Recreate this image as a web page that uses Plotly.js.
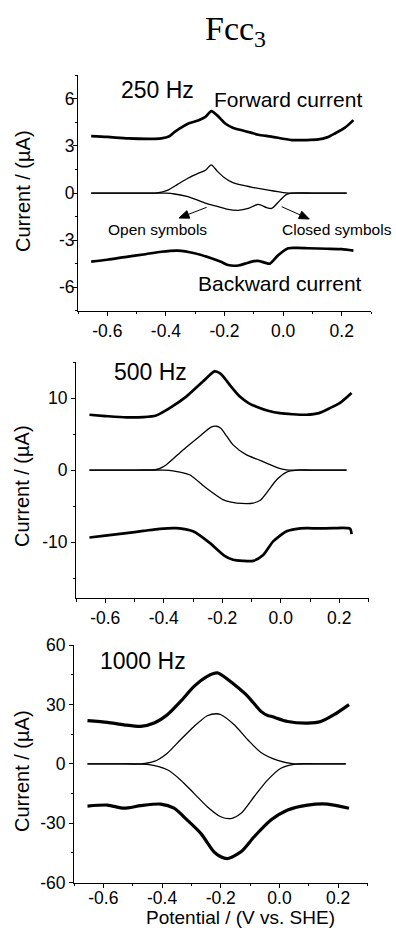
<!DOCTYPE html>
<html>
<head>
<meta charset="utf-8">
<script src="https://cdn.plot.ly/plotly-3.0.1.min.js"></script>
<style>html,body{margin:0;padding:0;background:#fff;}#chart{width:396px;height:930px;}</style>
</head>
<body>
<div id="chart"></div>
<script>
// ---------- 250 Hz ----------
const v250Fwd = [-0.655,-0.60,-0.529,-0.45,-0.416,-0.39,-0.37,-0.345,-0.325,-0.29,-0.265,-0.245,-0.225,-0.195,-0.17,-0.141,-0.11,-0.085,-0.04,0.029,0.08,0.12,0.15,0.177,0.21,0.24];
const i250Fwd = [3.63,3.58,3.48,3.45,3.48,3.6,3.9,4.2,4.42,4.62,4.85,5.22,4.95,4.4,4.15,4.0,3.85,3.72,3.6,3.38,3.38,3.42,3.55,3.8,4.15,4.65];
const v250FwdSim = [-0.655,-0.50,-0.438,-0.415,-0.393,-0.359,-0.325,-0.29,-0.265,-0.245,-0.225,-0.20,-0.175,-0.14,-0.10,-0.05,0.0,0.02,0.10,0.217];
const i250FwdSim = [0,0,0,0.06,0.19,0.57,0.94,1.25,1.45,1.8,1.4,0.98,0.7,0.5,0.35,0.18,0.03,0,0,0];
const v250BwdSim = [-0.655,-0.50,-0.40,-0.37,-0.325,-0.268,-0.225,-0.188,-0.153,-0.119,-0.085,-0.056,-0.039,-0.01,0.012,0.03,0.10,0.217];
const i250BwdSim = [0,0,-0.01,-0.06,-0.23,-0.62,-0.85,-1.04,-1.1,-0.98,-0.72,-0.93,-0.98,-0.45,-0.08,0,0,0];
const v250Bwd = [-0.655,-0.60,-0.529,-0.47,-0.416,-0.359,-0.302,-0.245,-0.21,-0.188,-0.153,-0.13,-0.107,-0.085,-0.06,-0.045,-0.016,0.018,0.05,0.086,0.15,0.20,0.24];
const i250Bwd = [-4.37,-4.25,-4.05,-3.9,-3.74,-3.67,-3.84,-4.16,-4.4,-4.59,-4.62,-4.5,-4.37,-4.32,-4.45,-4.5,-3.95,-3.52,-3.5,-3.52,-3.55,-3.58,-3.67];

// ---------- 500 Hz ----------
const v500Fwd = [-0.654,-0.60,-0.528,-0.47,-0.426,-0.38,-0.323,-0.266,-0.226,-0.21,-0.197,-0.17,-0.14,-0.11,-0.083,-0.04,-0.003,0.04,0.088,0.13,0.168,0.205,0.242];
const i500Fwd = [7.68,7.5,7.31,7.35,7.58,8.6,10.2,12.3,13.7,13.5,13.0,11.6,10.2,9.3,8.8,8.2,7.9,7.75,7.68,7.9,8.6,9.4,10.7];
const v500FwdSim = [-0.654,-0.50,-0.437,-0.415,-0.391,-0.334,-0.278,-0.238,-0.22,-0.205,-0.185,-0.163,-0.117,-0.08,-0.049,-0.01,0.02,0.10,0.225];
const i500FwdSim = [0,0,0,0.2,0.74,2.8,4.67,5.97,6.08,5.8,4.7,3.5,2.1,1.5,0.97,0.3,0.04,0,0];
const v500BwdSim = [-0.654,-0.50,-0.40,-0.369,-0.312,-0.255,-0.198,-0.17,-0.151,-0.094,-0.07,-0.049,-0.014,0.02,0.054,0.10,0.225];
const i500BwdSim = [0,0,0,-0.1,-0.65,-2.5,-4.1,-4.45,-4.58,-4.58,-4.2,-3.2,-1.35,-0.28,0,0,0];
const v500Bwd = [-0.654,-0.60,-0.528,-0.47,-0.414,-0.357,-0.30,-0.243,-0.192,-0.163,-0.13,-0.094,-0.06,-0.026,0.02,0.05,0.088,0.13,0.18,0.237,0.242];
const i500Bwd = [-9.36,-9.1,-8.75,-8.45,-8.15,-8.06,-8.5,-10.1,-11.9,-12.45,-12.6,-12.6,-11.8,-9.9,-8.5,-8.2,-8.06,-8.1,-8.06,-8.15,-8.9];

// ---------- 1000 Hz ----------
const v1000Fwd = [-0.654,-0.586,-0.53,-0.473,-0.427,-0.382,-0.337,-0.291,-0.246,-0.212,-0.199,-0.154,-0.108,-0.063,-0.04,-0.028,0.028,0.096,0.141,0.186,0.237];
const i1000Fwd = [21.8,20.9,19.7,18.9,20.6,24.8,31.5,39.1,44.2,45.9,45,40,34.1,26.5,24.4,24.0,21.4,20.6,21.4,24.8,29.9];
const v1000FwdSim = [-0.654,-0.55,-0.473,-0.427,-0.382,-0.337,-0.291,-0.246,-0.215,-0.199,-0.154,-0.108,-0.063,-0.006,0.05,0.12,0.226];
const i1000FwdSim = [0,0,0,1.2,5.4,12.2,18.9,24.3,25.3,24.8,19.7,12.2,5.7,1.7,0,0,0];
const v1000BwdSim = [-0.654,-0.55,-0.45,-0.382,-0.337,-0.291,-0.246,-0.20,-0.165,-0.131,-0.086,-0.04,0.005,0.062,0.12,0.226];
const i1000BwdSim = [0,0,-0.3,-3,-8.1,-14.9,-21.6,-26.7,-27.6,-25,-16.5,-8.1,-2.2,0,0,0];
const v1000Bwd = [-0.654,-0.586,-0.53,-0.473,-0.405,-0.359,-0.314,-0.268,-0.223,-0.20,-0.176,-0.131,-0.086,-0.029,0.028,0.096,0.164,0.237];
const i1000Bwd = [-21.3,-20.8,-22.4,-21.1,-20.3,-22.4,-28.4,-35.1,-44.4,-46.9,-47.8,-44.4,-36.8,-28.4,-23.3,-20.8,-20.3,-22.4];

// ---------- ticks ----------
const xTickVals = [-0.6,-0.4,-0.2,0.0,0.2];
const xTickText = ['-0.6','-0.4','-0.2','0.0','0.2'];
const y1TickVals = [-6,-3,0,3,6];
const y1TickText = ['-6','-3','0','3','6'];
const y2TickVals = [-10,0,10];
const y2TickText = ['-10','0','10'];
const y3TickVals = [-60,-30,0,30,60];
const y3TickText = ['-60','-30','0','30','60'];

const W = 396, H = 930;
const px = x => x / W;
const py = y => 1 - y / H;

function tr(x, y, ax, w) {
  return {x: x, y: y, xaxis: 'x' + ax, yaxis: 'y' + ax, type: 'scatter', mode: 'lines',
    line: {color: '#000', width: w, shape: 'spline', smoothing: 0.7}, hoverinfo: 'skip'};
}
const thick = 2.7, thin = 1.3;
const data = [
  tr(v250Fwd, i250Fwd, '', thick), tr(v250FwdSim, i250FwdSim, '', thin),
  tr(v250BwdSim, i250BwdSim, '', thin), tr(v250Bwd, i250Bwd, '', thick),
  tr(v500Fwd, i500Fwd, '2', thick), tr(v500FwdSim, i500FwdSim, '2', thin),
  tr(v500BwdSim, i500BwdSim, '2', thin), tr(v500Bwd, i500Bwd, '2', thick),
  tr(v1000Fwd, i1000Fwd, '3', 3.2), tr(v1000FwdSim, i1000FwdSim, '3', thin),
  tr(v1000BwdSim, i1000BwdSim, '3', thin), tr(v1000Bwd, i1000Bwd, '3', 3.2)
];

const tickFont = {family: 'Liberation Sans, Arial, sans-serif', size: 17.5, color: '#000'};
function xa(dom, anchor, standoff) {
  return {domain: dom, anchor: anchor, range: [-0.7, 0.3], tickvals: xTickVals, ticktext: xTickText,
    showline: true, linecolor: '#000', linewidth: 1, ticks: 'outside', ticklen: 4, tickwidth: 1, tickcolor: '#000',
    minor: {tickvals: [-0.7,-0.5,-0.3,-0.1,0.1,0.3], ticks: 'outside', ticklen: 2.5, tickcolor: '#000', tickwidth: 1},
    ticklabelstandoff: standoff,
    showgrid: false, zeroline: false, tickfont: tickFont, fixedrange: true};
}
function ya(dom, anchor, range, tv, tt, minorDt, standoff) {
  return {domain: dom, anchor: anchor, range: range, tickvals: tv, ticktext: tt,
    showline: true, linecolor: '#000', linewidth: 1, ticks: 'outside', ticklen: 4, tickwidth: 1, tickcolor: '#000',
    minor: {dtick: minorDt, tick0: 0, ticks: 'outside', ticklen: 2.5, tickcolor: '#000', tickwidth: 1},
    ticklabelstandoff: standoff,
    showgrid: false, zeroline: false, tickfont: tickFont, fixedrange: true};
}

const sans = 'Liberation Sans, Arial, sans-serif';
function lab(text, x, y, size, extra) {
  return Object.assign({text: text, x: px(x), y: py(y), xref: 'paper', yref: 'paper', showarrow: false,
    xanchor: 'center', yanchor: 'middle', font: {family: sans, size: size, color: '#000'}}, extra || {});
}
// arrow = thin line plus a filled triangular head, in paper coordinates
function arrowShapes(tailX, tailY, tipX, tipY) {
  const dx = tipX - tailX, dy = tipY - tailY, L = Math.hypot(dx, dy);
  const ux = dx / L, uy = dy / L, nx = -uy, ny = ux, hl = 10, hw = 4;
  const bx = tipX - hl * ux, by = tipY - hl * uy;
  const P = (x, y) => px(x) + ' ' + py(y);
  return [
    {type: 'line', xref: 'paper', yref: 'paper', x0: px(tailX), y0: py(tailY), x1: px(bx), y1: py(by),
      line: {color: '#000', width: 1}},
    {type: 'path', xref: 'paper', yref: 'paper',
      path: 'M ' + P(tipX, tipY) + ' L ' + P(bx + hw * nx, by + hw * ny) + ' L ' + P(bx - hw * nx, by - hw * ny) + ' Z',
      fillcolor: '#000', line: {color: '#000', width: 1}}
  ];
}

const annotations = [
  {text: 'Fcc<sub>3</sub>', x: px(235), y: py(31), xref: 'paper', yref: 'paper', showarrow: false,
    xanchor: 'center', yanchor: 'middle', font: {family: 'Liberation Serif, Times New Roman, serif', size: 34, color: '#000'}},
  lab('250 Hz', 157.5, 90.5, 23),
  lab('Forward current', 287.5, 99.5, 21),
  lab('Backward current', 280, 283.5, 21),
  lab('Open symbols', 157.5, 229.5, 15.5),
  lab('Closed symbols', 336.5, 229.5, 15.5),
  lab('500 Hz', 150.5, 372, 23),
  lab('1000 Hz', 143, 661, 23),
  lab('Current / (\u00b5A)', 23, 191, 20, {textangle: -90}),
  lab('Current / (\u00b5A)', 22, 486, 20, {textangle: -90}),
  lab('Current / (\u00b5A)', 22, 771, 20, {textangle: -90}),
  lab('Potential / (V vs. SHE)', 240, 917.5, 19, {borderpad: 0})
];

const shapes = [].concat(
  arrowShapes(206.7, 207.3, 179, 218),
  arrowShapes(281.7, 206.7, 309.3, 219)
);

const layout = {
  width: W, height: H, margin: {l: 0, r: 0, t: 0, b: 0},
  paper_bgcolor: '#fff', plot_bgcolor: '#fff', showlegend: false,
  xaxis: xa([78/W, 371/W], 'y', 0),
  yaxis: ya([1 - 310.7/H, 1 - 75.4/H], 'x', [-7.5, 7.5], y1TickVals, y1TickText, 1.5, -5),
  xaxis2: xa([76/W, 368.5/W], 'y2', 0),
  yaxis2: ya([1 - 598.3/H, 1 - 362/H], 'x2', [-17.8, 15], y2TickVals, y2TickText, 5, 0),
  xaxis3: xa([74/W, 367.5/W], 'y3', -5),
  yaxis3: ya([1 - 882.7/H, 1 - 645/H], 'x3', [-60, 60], y3TickVals, y3TickText, 15, 0),
  annotations: annotations,
  shapes: shapes
};

Plotly.newPlot('chart', data, layout, {staticPlot: true, displayModeBar: false});
</script>
</body>
</html>
